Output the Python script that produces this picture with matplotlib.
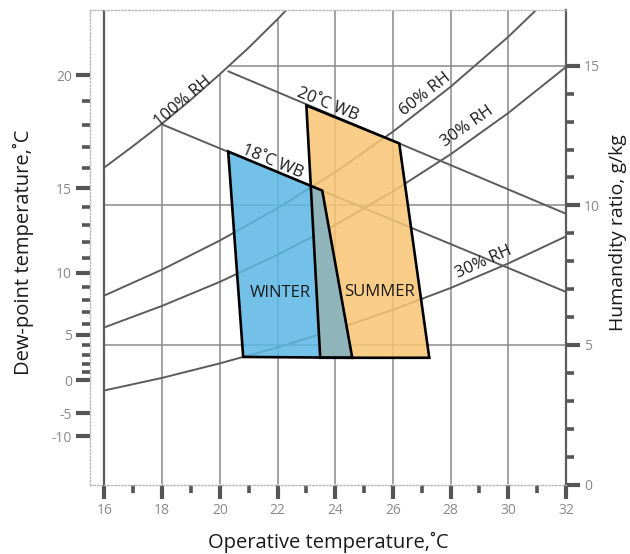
"""Psychrometric comfort chart: winter / summer zones on operative temperature
vs humidity ratio, with a dew-point scale on the left."""
import numpy as np
import matplotlib
matplotlib.use("Agg")
import matplotlib.pyplot as plt
from matplotlib.patches import Polygon
from matplotlib.ticker import FixedLocator

plt.rcParams["font.family"] = ["Open Sans", "DejaVu Sans"]
plt.rcParams["axes.unicode_minus"] = False

# saturation (100% RH) curve, g/kg
sat_t = [16, 17, 18, 19, 20, 21, 22, 23]
sat_w = [11.36, 12.13, 12.93, 13.79, 14.70, 15.65, 16.67, 17.74]

# other RH curves read at 2 degC steps
rh_t = [16, 18, 20, 22, 24, 26, 28, 30, 32]
rh60_w = [6.77, 7.70, 8.74, 9.90, 11.19, 12.64, 14.25, 16.04, 18.03]
rh50_w = [5.63, 6.40, 7.26, 8.23, 9.30, 10.50, 11.83, 13.31, 14.96]
rh30_w = [3.37, 3.82, 4.34, 4.91, 5.55, 6.26, 7.04, 7.92, 8.89]

# wet-bulb lines
wb18_t = [18.0, 32.0]
wb18_w = [12.9, 6.9]
wb20_t = [20.3, 32.0]
wb20_w = [14.8, 9.7]

# comfort zones (operative temp, humidity ratio)
winter_t = [20.29, 23.55, 24.59, 20.81]
winter_w = [11.93, 10.53, 4.54, 4.57]
summer_t = [23.00, 26.22, 27.26, 23.48]
summer_w = [13.58, 12.22, 4.54, 4.54]

x_major = [16, 18, 20, 22, 24, 26, 28, 30, 32]
x_minor = [17, 19, 21, 23, 25, 27, 29, 31]
grid_x = [18, 20, 22, 24, 26, 28, 30]
grid_w = [5, 10, 15]
w_major = [0, 5, 10, 15]
w_minor = [1, 2, 3, 4, 6, 7, 8, 9, 11, 12, 13, 14]
dew_major = [-10, -5, 0, 5, 10, 15, 20]
dew_minor = [1, 2, 3, 4, 6, 7, 8, 9, 11, 12, 13, 14, 16, 17, 18, 19]

LINE = "#5c5c5c"
GRID = "#8a8a8a"
TICK = "#555555"
LABEL = "#8a8a8a"
INK = "#1a1a1a"


def w_to_dew(w):
    w = np.clip(np.asarray(w, dtype=float), 0.05, None)
    pw = w * 101.325 / (622 + w)
    a = np.log(pw / 0.61094)
    return 243.04 * a / (17.625 - a)


def dew_to_w(td):
    td = np.asarray(td, dtype=float)
    pw = 0.61094 * np.exp(17.625 * td / (td + 243.04))
    return 622 * pw / (101.325 - pw)


fig = plt.figure(figsize=(6.3, 5.54), dpi=100)
ax = fig.add_axes([90 / 630, 69.5 / 554, 476 / 630, 474.5 / 554])
ax.set_xlim(15.5, 32)
ax.set_ylim(0, 17)

# region under the saturation curve, used to clip the grid
under_sat = Polygon(list(zip([16] + sat_t + [32, 32], [0] + sat_w + [17.74, 0])),
                    closed=True, transform=ax.transData, fill=False, visible=False)
ax.add_patch(under_sat)

for x in grid_x:
    ln, = ax.plot([x, x], [0, 17], color=GRID, lw=1.1, zorder=1)
    ln.set_clip_path(under_sat)
for w in grid_w:
    ln, = ax.plot([16, 32], [w, w], color=GRID, lw=1.1, zorder=1)
    ln.set_clip_path(under_sat)
ax.plot([16, 16], [0, 17], color=LINE, lw=1.6, zorder=1)

ax.plot(sat_t, sat_w, color=LINE, lw=1.4, zorder=1)
for ws in (rh60_w, rh50_w, rh30_w):
    ax.plot(rh_t, ws, color=LINE, lw=1.4, zorder=1)
ax.plot(wb18_t, wb18_w, color=LINE, lw=1.4, zorder=1)
ax.plot(wb20_t, wb20_w, color=LINE, lw=1.4, zorder=1)

winter = Polygon(list(zip(winter_t, winter_w)), closed=True, fc="#5ab7e4",
                 ec="none", alpha=0.85, zorder=2)
summer = Polygon(list(zip(summer_t, summer_w)), closed=True, fc="#f8c572",
                 ec="none", alpha=0.85, zorder=2)
ax.add_patch(winter)
ax.add_patch(summer)
overlap = Polygon(list(zip(summer_t, summer_w)), closed=True, fc="#86b3c1",
                  ec="none", alpha=0.9, zorder=3)
ax.add_patch(overlap)
overlap.set_clip_path(winter)
for ts, ws in ((winter_t, winter_w), (summer_t, summer_w)):
    ax.add_patch(Polygon(list(zip(ts, ws)), closed=True, fill=False,
                         ec="black", lw=1.9, joinstyle="miter", zorder=4))

txt = dict(fontsize=12, color=INK, ha="center", va="center",
           rotation_mode="anchor", zorder=5)
ax.text(22.09, 6.85, "WINTER", **txt)
ax.text(25.52, 6.90, "SUMMER", **txt)
ax.text(18.74, 13.72, "100% RH", rotation=40, **txt)
ax.text(27.12, 13.96, "60% RH", rotation=38, **txt)
ax.text(28.57, 12.83, "30% RH", rotation=35, **txt)
ax.text(29.16, 7.95, "30% RH", rotation=24, **txt)
ax.text(21.82, 11.57, "18˚C WB", rotation=-22.5, **txt)
ax.text(23.72, 13.62, "20˚C WB", rotation=-22, **txt)

# spines
for side in ("left", "top", "bottom"):
    ax.spines[side].set_color("#b8b8b8")
    ax.spines[side].set_linestyle((0, (1, 1.5)))
    ax.spines[side].set_linewidth(1.0)
ax.spines["right"].set_color(LINE)
ax.spines["right"].set_linewidth(1.6)

ax.set_xticks(x_major)
ax.xaxis.set_minor_locator(FixedLocator(x_minor))
ax.yaxis.tick_right()
ax.yaxis.set_label_position("right")
ax.set_yticks(w_major)
ax.yaxis.set_minor_locator(FixedLocator(w_minor))
ax.tick_params(which="major", length=10, width=3, color=TICK,
               labelcolor=LABEL, labelsize=10, pad=3)
ax.tick_params(which="minor", length=6, width=2.6, color=TICK)

sec = ax.secondary_yaxis("left", functions=(w_to_dew, dew_to_w))
sec.spines["left"].set_visible(False)
sec.set_yticks(dew_major)
sec.yaxis.set_minor_locator(FixedLocator(dew_minor))
sec.tick_params(which="major", length=10, width=3, color=TICK,
                labelcolor=LABEL, labelsize=10, pad=3)
sec.tick_params(which="minor", length=6, width=2.6, color=TICK)

ax.set_xlabel("Operative temperature,˚C", fontsize=14.5, color=INK, labelpad=10)
ax.set_ylabel("Humandity ratio, g/kg", fontsize=14, color=INK)
ax.yaxis.set_label_coords(1.09, 0.53)
sec.set_ylabel("Dew-point temperature,˚C", fontsize=14.5, color=INK)
sec.yaxis.set_label_coords(-0.117, 0.49, transform=ax.transAxes)

fig.savefig("out.png", dpi=100)
